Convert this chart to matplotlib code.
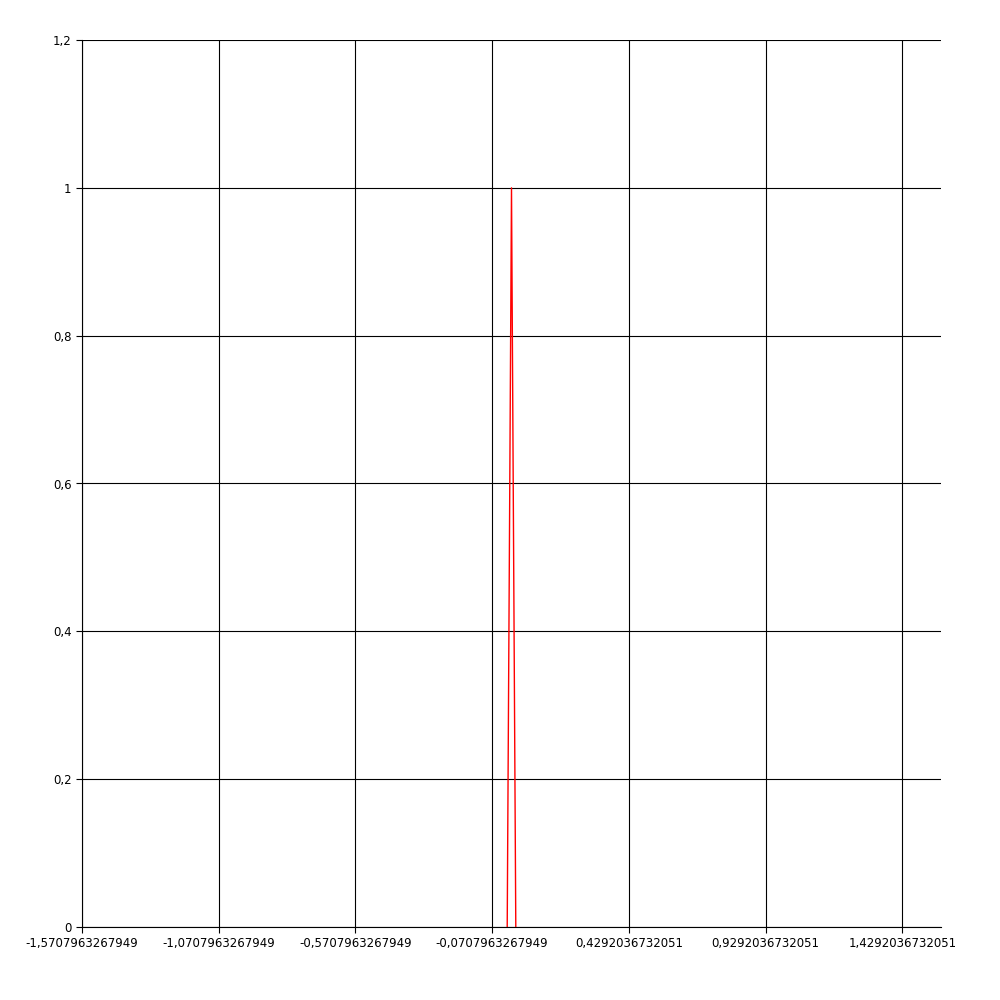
import numpy as np
import matplotlib.pyplot as plt

# spike data
x_vals = [-0.0157, 0.0, 0.0157]
y_vals = [0.0, 1.0, 0.0]

x_ticks = [-np.pi / 2 + 0.5 * i for i in range(7)]
y_ticks = [0, 0.2, 0.4, 0.6, 0.8, 1.0, 1.2]

def fmt(v):
    s = repr(round(v, 14))
    return s.replace(".", ",")

fig = plt.figure(figsize=(10, 10), dpi=100)
ax = fig.add_axes([0.082, 0.073, 0.859, 0.887])
ax.plot(x_vals, y_vals, color="red", linewidth=1)
ax.set_xlim(-np.pi / 2, np.pi / 2)
ax.set_ylim(0, 1.2)
ax.set_xticks(x_ticks)
ax.set_xticklabels(["%.14f" % v if abs(v) >= 1e-9 else "0" for v in x_ticks])
ax.set_xticklabels([("%.14f" % v).rstrip("0").replace(".", ",") for v in x_ticks])
ax.set_yticks(y_ticks)
ax.set_yticklabels(["0", "0,2", "0,4", "0,6", "0,8", "1", "1,2"])
ax.grid(True, color="black", linewidth=0.8)
for s in ["top", "right"]:
    ax.spines[s].set_visible(False)
ax.tick_params(labelsize=8.5, length=4, width=0.8)
fig.savefig("out.png")
